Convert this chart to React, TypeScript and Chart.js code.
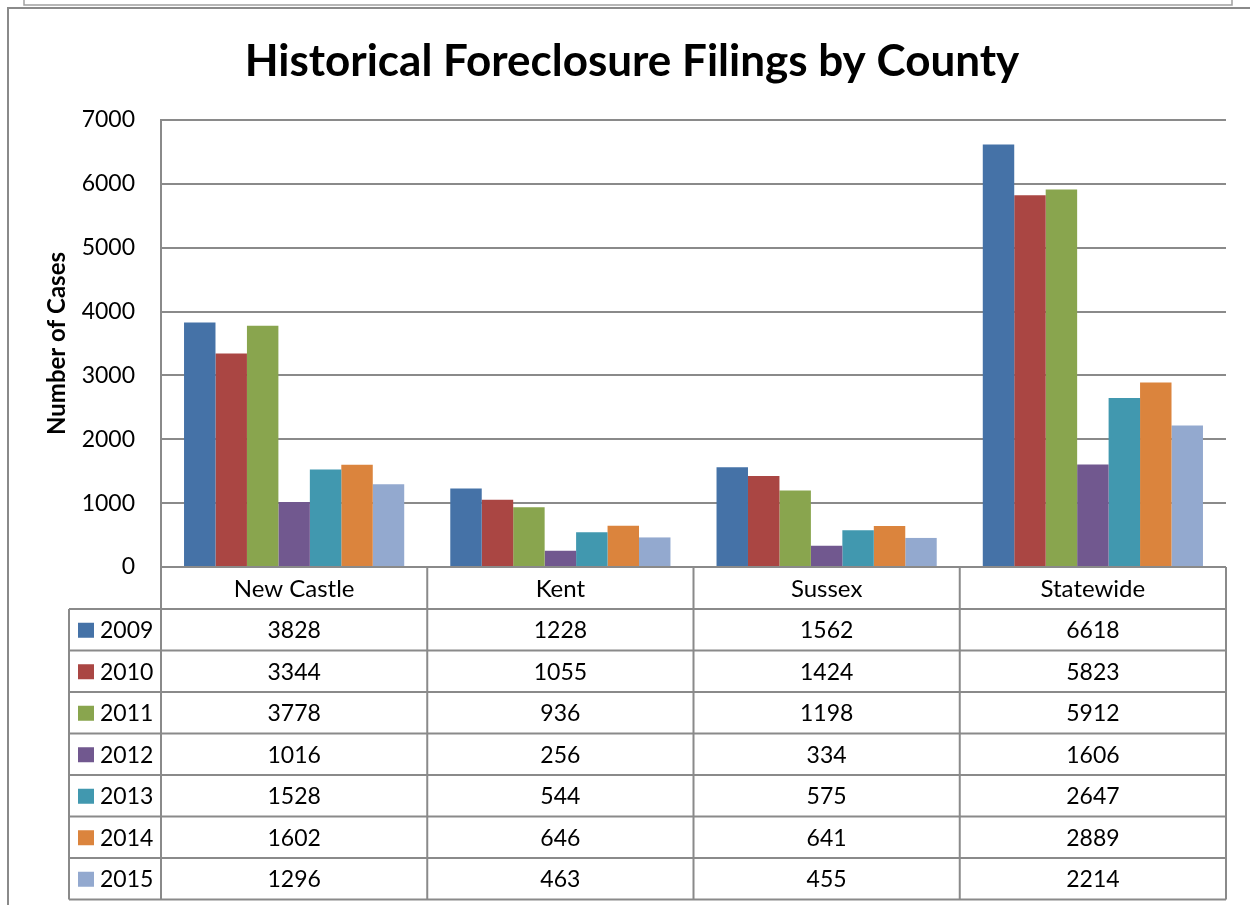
import React, { useEffect, useRef } from "react";
import { Chart, registerables } from "chart.js";

Chart.register(...registerables);

const categories = ["New Castle", "Kent", "Sussex", "Statewide"];
const years = ["2009", "2010", "2011", "2012", "2013", "2014", "2015"];
const values2009 = [3828, 1228, 1562, 6618];
const values2010 = [3344, 1055, 1424, 5823];
const values2011 = [3778, 936, 1198, 5912];
const values2012 = [1016, 256, 334, 1606];
const values2013 = [1528, 544, 575, 2647];
const values2014 = [1602, 646, 641, 2889];
const values2015 = [1296, 463, 455, 2214];
const seriesValues = [values2009, values2010, values2011, values2012, values2013, values2014, values2015];
const colors = ["#4572A7", "#AA4643", "#89A54E", "#71588F", "#4198AF", "#DB843D", "#93A9CF"];
const yTicks = [0, 1000, 2000, 3000, 4000, 5000, 6000, 7000];

const FONT = "Lato, 'Open Sans', sans-serif";
const LINE = "#8a8a8a";
const PAD_LEFT = 14;

const framePlugin = {
  id: "frame",
  beforeDraw(chart: any) {
    const ctx = chart.ctx;
    ctx.save();
    ctx.fillStyle = "#ffffff";
    ctx.fillRect(0, 0, chart.width, chart.height);
    ctx.strokeStyle = "#a0a0a0";
    ctx.lineWidth = 1.5;
    ctx.beginPath();
    ctx.moveTo(24, 0);
    ctx.lineTo(24, 5);
    ctx.lineTo(1232, 5);
    ctx.lineTo(1232, 0);
    ctx.stroke();
    ctx.strokeStyle = LINE;
    ctx.lineWidth = 2;
    ctx.beginPath();
    ctx.moveTo(8, chart.height);
    ctx.lineTo(8, 8);
    ctx.lineTo(chart.width, 8);
    ctx.stroke();
    ctx.restore();
  },
};

const tablePlugin = {
  id: "dataTable",
  afterDraw(chart: any) {
    const ctx = chart.ctx;
    const xs = chart.scales.x;
    const area = chart.chartArea;
    const half = (xs.getPixelForValue(1) - xs.getPixelForValue(0)) / 2;
    const top = area.bottom;
    const headerH = 42;
    const rowH = 41.5;
    const legendLeft = 69;
    const bottom = top + headerH + rowH * years.length;
    ctx.save();
    ctx.strokeStyle = LINE;
    ctx.lineWidth = 2;
    ctx.beginPath();
    for (let i = 0; i < categories.length; i++) {
      const bx = xs.getPixelForValue(i) - half;
      ctx.moveTo(bx, top);
      ctx.lineTo(bx, bottom);
    }
    ctx.moveTo(area.right, top);
    ctx.lineTo(area.right, bottom);
    ctx.moveTo(legendLeft, top + headerH);
    ctx.lineTo(legendLeft, bottom);
    for (let r = 0; r <= years.length; r++) {
      const y = top + headerH + rowH * r;
      ctx.moveTo(legendLeft, y);
      ctx.lineTo(area.right, y);
    }
    ctx.stroke();

    ctx.font = `23px ${FONT}`;
    ctx.textBaseline = "middle";
    for (let r = 0; r < years.length; r++) {
      const cy = top + headerH + rowH * r + rowH / 2;
      ctx.fillStyle = colors[r];
      ctx.fillRect(78, cy - 7, 16, 15);
      ctx.fillStyle = "#000";
      ctx.textAlign = "left";
      ctx.fillText(years[r], 100, cy + 1);
      ctx.textAlign = "center";
      for (let c = 0; c < categories.length; c++) {
        ctx.fillText(String(seriesValues[r][c]), xs.getPixelForValue(c), cy + 1);
      }
    }
    ctx.restore();
  },
};

export default function App() {
  const ref = useRef<HTMLCanvasElement>(null);
  useEffect(() => {
    if (!ref.current) return;
    const chart = new Chart(ref.current, {
      type: "bar",
      data: {
        labels: categories,
        datasets: years.map((y, i) => ({
          label: y,
          data: seriesValues[i],
          backgroundColor: colors[i],
          borderWidth: 0,
          categoryPercentage: 0.827,
          barPercentage: 1,
        })),
      },
      options: {
        responsive: false,
        animation: false,
        devicePixelRatio: 1,
        layout: { padding: { top: 0, left: PAD_LEFT, right: 0, bottom: 0 } },
        plugins: {
          legend: { display: false },
          tooltip: { enabled: false },
          title: {
            display: true,
            text: "Historical Foreclosure Filings by County",
            color: "#000",
            font: { family: FONT, size: 44, weight: "bold" },
            padding: { top: 35, bottom: 32.2 },
          },
        },
        scales: {
          x: {
            grid: { display: false },
            border: { display: false },
            ticks: {
              color: "#000",
              font: { family: FONT, size: 24 },
              padding: 0,
              maxRotation: 0,
              autoSkip: false,
            },
            afterFit: (s: any) => {
              s.height = 338;
            },
          },
          y: {
            min: 0,
            max: 7000,
            afterBuildTicks: (s: any) => {
              s.ticks = yTicks.map((v) => ({ value: v }));
            },
            grid: { color: LINE, lineWidth: 2, drawTicks: false },
            border: { display: true, color: LINE, width: 2 },
            ticks: {
              color: "#000",
              font: { family: FONT, size: 23 },
              padding: 26,
              callback: (v: any) => String(v),
            },
            title: {
              display: true,
              text: "Number of Cases",
              color: "#000",
              font: { family: FONT, size: 24, weight: "bold" },
              padding: { top: 43 - PAD_LEFT, bottom: 0 },
            },
            afterFit: (s: any) => {
              s.width = 161 - PAD_LEFT;
            },
          },
          yRight: {
            type: "linear",
            position: "right",
            display: true,
            grid: { display: false, drawTicks: false },
            border: { display: false },
            ticks: { display: false },
            afterFit: (s: any) => {
              s.width = 24;
            },
          },
        },
      },
      plugins: [framePlugin, tablePlugin],
    });
    return () => chart.destroy();
  }, []);
  return (
    <div style={{ position: "fixed", left: 0, top: 0, width: 1250, height: 905, background: "#fff" }}>
      <canvas ref={ref} width={1250} height={905} style={{ width: 1250, height: 905, display: "block" }} />
    </div>
  );
}
